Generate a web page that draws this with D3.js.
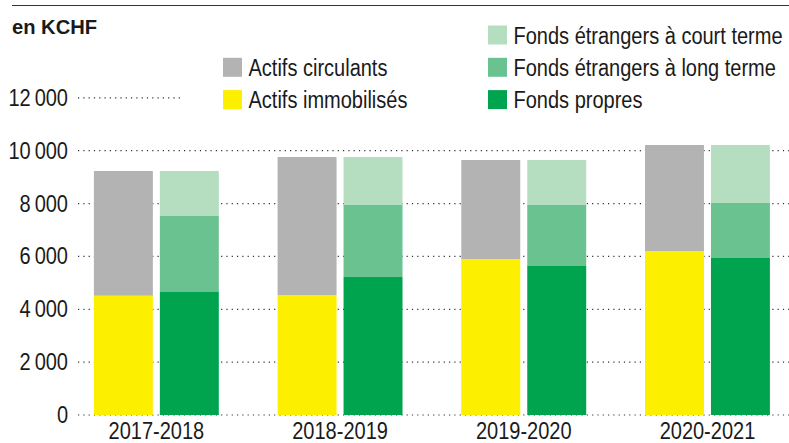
<!DOCTYPE html>
<html>
<head>
<meta charset="utf-8">
<script src="https://cdn.jsdelivr.net/npm/d3@7"></script>
<style>
  body { margin: 0; background: #fff; }
  svg text { font-family: "Liberation Sans", Arial, sans-serif; fill: #1a1a1a; }
</style>
</head>
<body>
<script>
'use strict';

// data (values in KCHF)
var years = ['2017-2018', '2018-2019', '2019-2020', '2020-2021'];
var actifsImmobilises = [4514, 4540, 5902, 6205];
var actifsCirculants = [4718, 5221, 3746, 4011];
var fondsPropres = [4654, 5221, 5638, 5940];
var fondsLongTerme = [2875, 2725, 2308, 2081];
var fondsCourtTerme = [1703, 1815, 1702, 2195];
var yTicks = [0, 2000, 4000, 6000, 8000, 10000, 12000];

var colors = {
    immo: '#fcef00',
    circ: '#b3b3b3',
    propres: '#00a44f',
    long: '#69c28f',
    court: '#b5dec1'
};

var width = 789;
var height = 443;
var squeeze = 0.87; // fake a condensed face

var svg = d3.select('body')
    .append('svg')
    .attr('width', width)
    .attr('height', height);

// condensed text: draw at origin, then move + squeeze
function label(sel, x, y) {
    return sel.append('text')
        .attr('transform', (d, i) => 'translate(' + (typeof x == 'function' ? x(d, i) : x) + ','
            + (typeof y == 'function' ? y(d, i) : y) + ') scale(' + squeeze + ',1)')
        .style('font-size', '23px');
}

var y = d3.scaleLinear()
    .domain([0, 10000])
    .range([415, 150.7]);

var x0 = d3.scaleBand()
    .domain(years)
    .range([64.5, 799.3])
    .paddingInner(0.32)
    .paddingOuter(0.16);

var x1 = d3.scaleBand()
    .domain(['actifs', 'passifs'])
    .range([0, x0.bandwidth()])
    .paddingInner(0.106)
    .paddingOuter(0);

// top rule + unit
svg.append('line')
    .attr('x1', 12).attr('x2', width)
    .attr('y1', 5.5).attr('y2', 5.5)
    .attr('stroke', '#333')
    .attr('stroke-width', 1.2);

svg.append('text')
    .attr('transform', 'translate(12,34) scale(0.96,1)')
    .style('font-weight', 'bold')
    .style('font-size', '21px')
    .text('en KCHF');

// dotted grid
svg.append('g')
    .selectAll('line')
    .data(yTicks)
    .enter()
    .append('line')
    .attr('x1', 78)
    .attr('x2', (d) => d == 12000 ? 182 : width)
    .attr('y1', (d) => y(d))
    .attr('y2', (d) => y(d))
    .attr('stroke', '#333')
    .attr('stroke-width', 1.2)
    .attr('stroke-dasharray', '1.2,4.1');

var tickG = svg.append('g')
    .selectAll('g')
    .data(yTicks)
    .enter()
    .append('g');
label(tickG, 68, (d) => y(d) + 8)
    .attr('text-anchor', 'end')
    .text((d) => d3.format(',')(d).replace(',', '\u2009'));

// stacked bars
var actifsStack = years.map((yr, i) => [
    { key: 'immo', y0: 0, y1: actifsImmobilises[i] },
    { key: 'circ', y0: actifsImmobilises[i], y1: actifsImmobilises[i] + actifsCirculants[i] }
]);
var passifsStack = years.map((yr, i) => {
    let a = fondsPropres[i];
    let b = a + fondsLongTerme[i];
    return [
        { key: 'propres', y0: 0, y1: a },
        { key: 'long', y0: a, y1: b },
        { key: 'court', y0: b, y1: b + fondsCourtTerme[i] }
    ];
});

var groups = svg.append('g')
    .selectAll('g')
    .data(years)
    .enter()
    .append('g')
    .attr('transform', (d) => 'translate(' + x0(d) + ',0)');

groups.each(function(yr, i) {
    var g = d3.select(this);
    [['actifs', actifsStack[i]], ['passifs', passifsStack[i]]].forEach((s) => {
        g.selectAll('rect.' + s[0])
            .data(s[1])
            .enter()
            .append('rect')
            .attr('class', s[0])
            .attr('x', x1(s[0]))
            .attr('width', x1.bandwidth())
            .attr('y', (d) => y(d.y1))
            .attr('height', (d) => y(d.y0) - y(d.y1))
            .attr('fill', (d) => colors[d.key]);
    });
});

// x labels
var yearG = svg.append('g')
    .selectAll('g')
    .data(years)
    .enter()
    .append('g');
label(yearG, (d) => x0(d) + x0.bandwidth() / 2, 438.5)
    .attr('text-anchor', 'middle')
    .text((d) => d);

// legend
var legendLeft = [
    { label: 'Actifs circulants', key: 'circ', row: 1 },
    { label: 'Actifs immobilisés', key: 'immo', row: 2 }
];
var legendRight = [
    { label: 'Fonds étrangers à court terme', key: 'court', row: 0 },
    { label: 'Fonds étrangers à long terme', key: 'long', row: 1 },
    { label: 'Fonds propres', key: 'propres', row: 2 }
];

function makeLegend(items, lx) {
    var lg = svg.append('g')
        .selectAll('g')
        .data(items)
        .enter()
        .append('g')
        .attr('transform', (d) => 'translate(' + lx + ',' + (25.5 + d.row * 32.3) + ')');
    lg.append('rect')
        .attr('width', 19)
        .attr('height', 19)
        .attr('fill', (d) => colors[d.key]);
    label(lg, 25.5, 18)
        .text((d) => d.label);
}
makeLegend(legendLeft, 223);
makeLegend(legendRight, 488);
</script>
</body>
</html>
